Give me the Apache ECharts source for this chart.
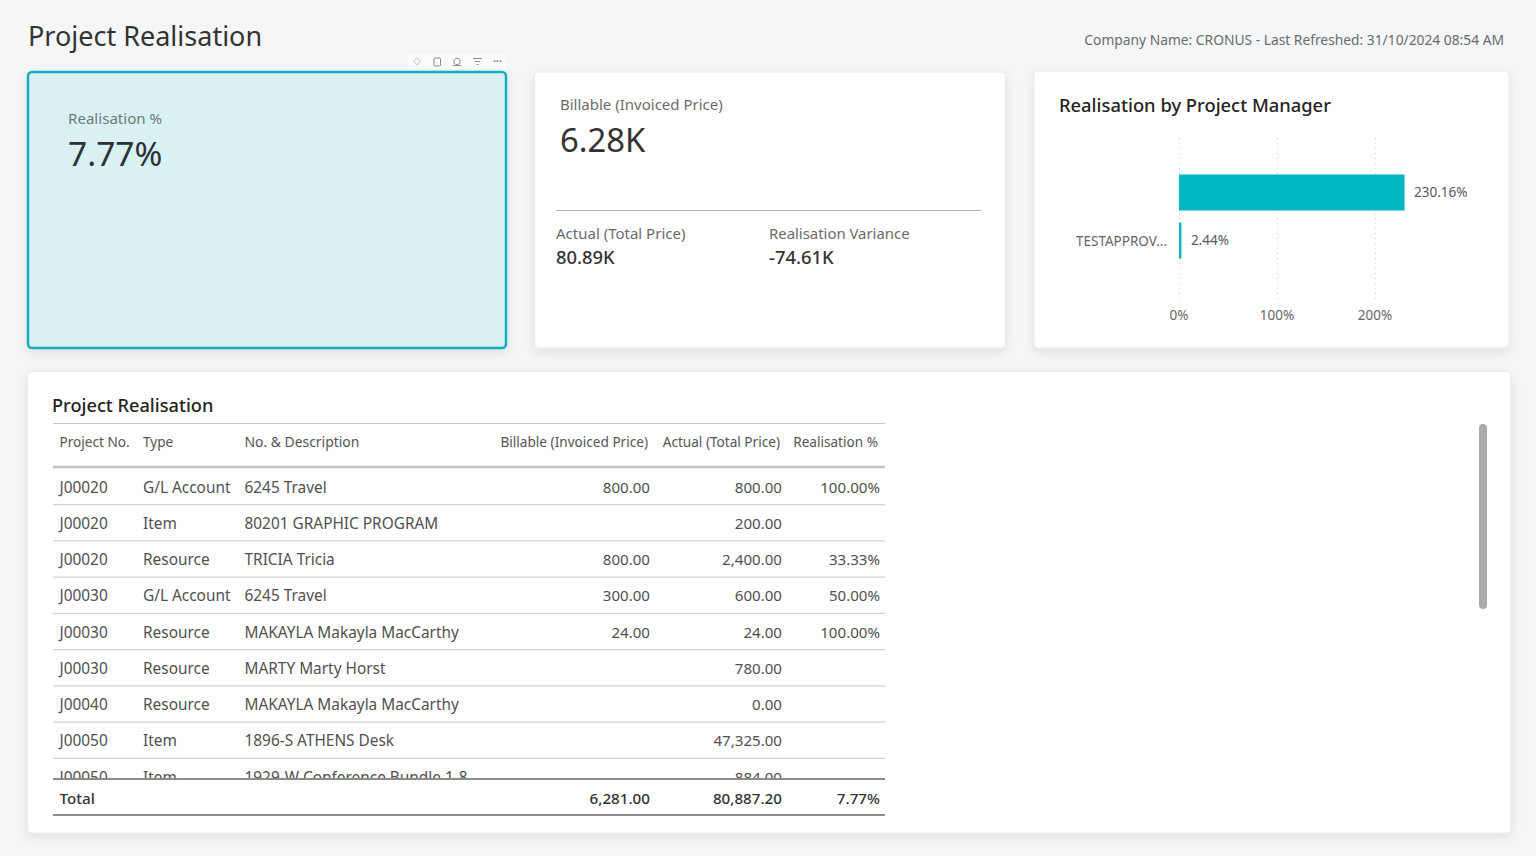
<!DOCTYPE html>
<html>
<head>
<meta charset="utf-8">
<title>Project Realisation</title>
<script src="https://cdn.jsdelivr.net/npm/echarts@6/dist/echarts.min.js"></script>
<style>
  html, body { margin: 0; padding: 0; background: #f5f6f8; }
  #main { width: 1536px; height: 856px; }
</style>
</head>
<body>
<div id="main"></div>
<script>
// 数据
const managers = ["TESTAPPROV...", ""];
const realisation = [2.44, 230.16];
const axisTicks = [0, 100, 200];

const projectNo = ["J00020", "J00020", "J00020", "J00030", "J00030", "J00030", "J00040", "J00050", "J00050"];
const lineType = ["G/L Account", "Item", "Resource", "G/L Account", "Resource", "Resource", "Resource", "Item", "Item"];
const description = ["6245 Travel", "80201 GRAPHIC PROGRAM", "TRICIA Tricia", "6245 Travel", "MAKAYLA Makayla MacCarthy", "MARTY Marty Horst", "MAKAYLA Makayla MacCarthy", "1896-S ATHENS Desk", "1929-W Conference Bundle 1-8"];
const billable = ["800.00", "", "800.00", "300.00", "24.00", "", "", "", ""];
const actual = ["800.00", "200.00", "2,400.00", "600.00", "24.00", "780.00", "0.00", "47,325.00", "884.00"];
const realisationPct = ["100.00%", "", "33.33%", "50.00%", "100.00%", "", "", "", ""];
const totals = ["6,281.00", "80,887.20", "7.77%"];

const FONT = '"Noto Sans", "Open Sans", sans-serif';
const graphics = [];

// 文本
const txt = (text, x, y, size, fill, opts = {}) => {
  graphics.push({
    type: "text", x, y: y - 1, z: opts.z || 5, silent: true,
    style: {
      text, fill, fontFamily: FONT, fontSize: size, fontWeight: opts.weight || 400,
      align: opts.align || "left", verticalAlign: "middle",
    },
  });
};
const rect = (x, y, width, height, style, r = 0, z = 1) => {
  graphics.push({ type: "rect", z, silent: true, shape: { x, y, width, height, r }, style });
};
const hline = (x1, x2, y, stroke, lineWidth = 1, z = 4) => {
  graphics.push({ type: "line", z, silent: true, shape: { x1, y1: y, x2, y2: y }, style: { stroke, lineWidth } });
};
const card = (x, y, w, h, extra = {}) => {
  rect(x, y, w, h, {
    fill: "#fff", stroke: "#e9eaec", lineWidth: 1,
    shadowColor: "rgba(0,0,0,0.09)", shadowBlur: 12, shadowOffsetY: 4, ...extra,
  }, 4);
};

// 页面标题
txt("Project Realisation", 28, 36, 27, "#333333");
txt("Company Name: CRONUS - Last Refreshed: 31/10/2024 08:54 AM", 1504, 40, 13.8, "#6b6b6b", { align: "right" });

// 卡片
card(28, 72, 478, 276, { fill: "#d9f1f3", stroke: "#14aeba", lineWidth: 2.5 });
card(534.5, 72, 471, 276);
card(1034, 71, 475, 277);
card(27.5, 371.5, 1483, 461.5);

// 工具栏图标
rect(408, 54, 98, 15, { fill: "#fbfbfc" }, 1);
graphics.push({ type: "rect", z: 5, silent: true, rotation: Math.PI / 4, x: 413.5, y: 61.5, shape: { x: 0, y: 0, width: 5, height: 5 }, style: { fill: "none", stroke: "#d0d0d0", lineWidth: 1 } });
rect(434, 58, 6.5, 8, { fill: "none", stroke: "#8a8a8a", lineWidth: 1 }, 1, 5);
graphics.push({ type: "circle", z: 5, silent: true, shape: { cx: 457, cy: 61.5, r: 3.2 }, style: { fill: "none", stroke: "#8a8a8a", lineWidth: 1 } });
hline(453, 461, 65.5, "#8a8a8a", 1, 5);
hline(473, 482, 58.5, "#8a8a8a", 1, 5);
hline(475, 480, 61.5, "#8a8a8a", 1, 5);
hline(476.5, 478.5, 64.5, "#8a8a8a", 1, 5);
txt("···", 497.5, 62, 10, "#777777", { align: "center", weight: 700 });

// KPI
txt("Realisation %", 68, 119, 15.1, "#6c7a7c");
txt("7.77%", 68, 154, 33.5, "#2b3335");
txt("Billable (Invoiced Price)", 560, 104.5, 15, "#6b6b6b");
txt("6.28K", 560, 140, 32.8, "#333333");
hline(556, 981, 210.5, "#b3b3b3", 1.2);
txt("Actual (Total Price)", 556, 233.5, 15, "#6b6b6b");
txt("80.89K", 556, 257, 18.4, "#333333", { weight: 500 });
txt("Realisation Variance", 769, 233.5, 14.9, "#6b6b6b");
txt("-74.61K", 769, 257, 18.4, "#333333", { weight: 500 });
txt("Realisation by Project Manager", 1059, 105.5, 18.35, "#252423", { weight: 500 });

// 表格
const colX = { no: 59.5, type: 143, desc: 244.5, bill: 650, act: 782, pct: 880 };
txt("Project Realisation", 52, 405.5, 18.2, "#252423", { weight: 500 });
hline(53, 885, 423.5, "#c8c8c8", 1.2);
hline(53, 885, 467, "#c4c4c4", 2.4);
const HEAD = "#555555", CELL = "#505050";
txt("Project No.", colX.no, 442, 13.6, HEAD);
txt("Type", colX.type, 442, 13.6, HEAD);
txt("No. & Description", colX.desc, 442, 13.9, HEAD);
txt("Billable (Invoiced Price)", colX.bill - 2, 442, 13.6, HEAD, { align: "right" });
txt("Actual (Total Price)", colX.act - 2, 442, 13.6, HEAD, { align: "right" });
txt("Realisation %", colX.pct - 2, 442, 13.6, HEAD, { align: "right" });

projectNo.forEach((no, i) => {
  const y = 487 + i * 36.25;
  txt(no, colX.no, y + 1, 15.4, CELL);
  txt(lineType[i], colX.type, y + 1, 15.4, CELL);
  txt(description[i], colX.desc, y + 1, 15.4, CELL);
  txt(billable[i], colX.bill, y + 0.5, 15.1, CELL, { align: "right" });
  txt(actual[i], colX.act, y + 0.5, 15.1, CELL, { align: "right" });
  txt(realisationPct[i], colX.pct, y + 0.5, 15.1, CELL, { align: "right" });
  if (i < projectNo.length - 1) hline(53, 885, y + 17.6, "#d4d4d4", 1.3);
});

// 合计行盖住被裁切的最后一行
rect(40, 779, 860, 50, { fill: "#fff" }, 0, 8);
const totalText = (text, x, align) => {
  graphics.push({
    type: "text", x, y: 797.5, z: 9, silent: true,
    style: { text, fill: "#333333", fontFamily: FONT, fontSize: 15.2, fontWeight: 500, align, verticalAlign: "middle" },
  });
};
totalText("Total", colX.no, "left");
totalText(totals[0], colX.bill, "right");
totalText(totals[1], colX.act, "right");
totalText(totals[2], colX.pct, "right");
hline(53, 885, 779, "#8c8c8c", 2, 9);
hline(53, 885, 815, "#8c8c8c", 2, 9);

// 滚动条
rect(1479, 424, 8, 185, { fill: "#a9a9a9" }, 4, 5);

const chart = echarts.init(document.getElementById("main"), null, { renderer: "svg" });
const option = {
  animation: false,
  textStyle: { fontFamily: FONT },
  graphic: { elements: graphics },
  grid: [
    // 网格线和 x 轴标签
    { left: 1179, top: 138, width: 294, height: 164, containLabel: false },
    // 柱子
    { left: 1179, top: 168.5, width: 294, height: 96, containLabel: false },
  ],
  xAxis: [
    {
      gridIndex: 0, type: "value", min: 0, max: 300, interval: 100,
      axisLine: { show: false }, axisTick: { show: false },
      axisLabel: {
        margin: 6, fontSize: 13.5, color: "#666666",
        showMaxLabel: false, formatter: (v) => (axisTicks.includes(v) ? v + "%" : ""),
      },
      splitLine: { show: true, showMaxLine: false, lineStyle: { type: [1, 4], color: "#d0d0d0", width: 1 } },
      z: 3,
    },
    { gridIndex: 1, type: "value", min: 0, max: 300, show: false },
  ],
  yAxis: [
    { gridIndex: 0, type: "category", data: [""], show: false },
    {
      gridIndex: 1, type: "category", data: managers,
      axisLine: { show: false }, axisTick: { show: false },
      axisLabel: { margin: 12, fontSize: 13.5, color: "#666666" },
      splitLine: { show: false },
      z: 3,
    },
  ],
  series: [
    {
      type: "bar", xAxisIndex: 1, yAxisIndex: 1, data: realisation, barWidth: 36, z: 4,
      itemStyle: { color: "#00b7c3" },
      label: {
        show: true, position: "right", distance: 10, fontSize: 13.5, color: "#5a5a5a",
        offset: [-0.5, -0.5],
        formatter: (p) => p.value.toFixed(2) + "%",
      },
    },
  ],
};
chart.setOption(option);
window.addEventListener("resize", function () {
  chart.resize();
});
</script>
</body>
</html>
